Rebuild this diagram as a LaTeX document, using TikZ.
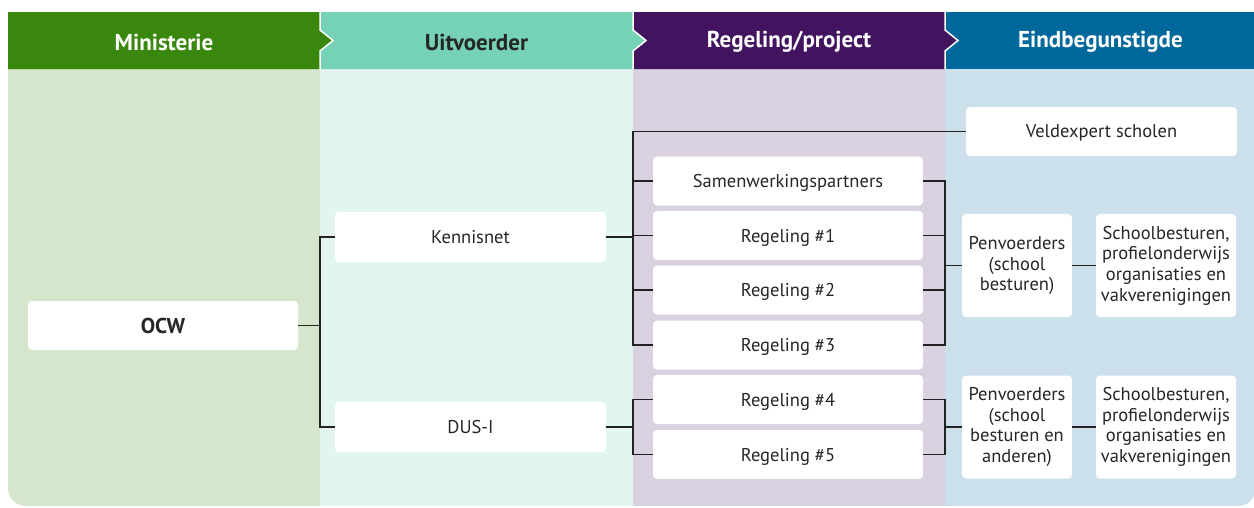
\documentclass[tikz,border=0pt]{standalone}
\usepackage{fontspec}
\setmainfont{PT Sans}
\definecolor{hgreen}{HTML}{39870C}
\definecolor{hmint}{HTML}{76D2B6}
\definecolor{hpurple}{HTML}{42145F}
\definecolor{hblue}{HTML}{01689B}
\definecolor{bgreen}{HTML}{D6E6CC}
\definecolor{bmint}{HTML}{E2F5EF}
\definecolor{bpurple}{HTML}{D9D0E0}
\definecolor{bblue}{HTML}{CCE0EB}
\definecolor{txt}{HTML}{262626}
\definecolor{ln}{HTML}{222222}
\tikzset{
  boxnode/.style={fill=white, rounded corners=4pt, inner sep=0pt, align=center,
    text=txt, font=\fontsize{18.5}{20.7}\selectfont},
  widebox/.style={boxnode, minimum width=270pt, minimum height=49pt, text depth=0pt},
  tallbox/.style={boxnode, minimum height=103pt},
  headtext/.style={font=\fontsize{23}{26}\selectfont\bfseries, inner sep=0pt},
  conn/.style={draw=ln, line width=1.3pt},
  sep/.style={draw=white, line width=1.5pt},
}
\begin{document}
\begin{tikzpicture}[x=1pt,y=-1pt]
\useasboundingbox (0,0) rectangle (1254,507);
\fill[white] (0,0) rectangle (1254,507);
% body
\begin{scope}
\clip[rounded corners=18pt] (8,0) rectangle (1256,506);
\fill[bgreen] (8,69) rectangle (320,506);
\fill[bmint] (320,69) rectangle (633,506);
\fill[bpurple] (633,69) rectangle (945,506);
\fill[bblue] (945,69) rectangle (1256,506);
\end{scope}
% headers
\fill[hblue] (945,12) rectangle (1254,69);
\fill[hpurple] (633,12) -- (945,12) -- (945,30) -- (958,40.5) -- (945,51) -- (945,69) -- (633,69) -- cycle;
\fill[hmint] (320,12) -- (633,12) -- (633,30) -- (646,40.5) -- (633,51) -- (633,69) -- (320,69) -- cycle;
\fill[hgreen] (8,12) -- (320,12) -- (320,30) -- (333,40.5) -- (320,51) -- (320,69) -- (8,69) -- cycle;
\foreach \x in {320,633,945}{
  \draw[sep] (\x,12) -- (\x,30) -- (\x+13,40.5) -- (\x,51) -- (\x,69);
}
\node[headtext, text=white] (h1) at (164,42) {Ministerie};
\node[headtext, text=txt] (h2) at (476.5,42) {Uitvoerder};
\node[headtext, text=white] (h3) at (789,42) {Regeling/project};
\node[headtext, text=white] (h4) at (1100.5,42) {Eindbegunstigde};
% nodes
\node[widebox, font=\fontsize{21.5}{24}\selectfont\bfseries] (ocw) at (163,325.5) {OCW};
\node[widebox, minimum width=271pt, minimum height=50pt] (ken) at (470.5,237) {Kennisnet};
\node[widebox, minimum width=271pt, minimum height=50pt] (dus) at (470.5,427) {DUS-I};
\node[widebox, minimum width=271pt] (veld) at (1101.5,131.5) {Veldexpert scholen};
\node[widebox] (sam) at (788,181) {Samenwerkingspartners};
\node[widebox] (r1) at (788,235.5) {Regeling \#1};
\node[widebox] (r2) at (788,290) {Regeling \#2};
\node[widebox] (r3) at (788,345) {Regeling \#3};
\node[widebox] (r4) at (788,399.5) {Regeling \#4};
\node[widebox] (r5) at (788,454.5) {Regeling \#5};
\node[tallbox, minimum width=110pt] (pen1) at (1017,265.5) {Penvoerders\\(school\\besturen)};
\node[tallbox, minimum width=140pt] (sch1) at (1166,265.5) {Schoolbesturen,\\profielonderwijs\\organisaties en\\vakverenigingen};
\node[tallbox, minimum width=110pt] (pen2) at (1017,427) {Penvoerders\\(school\\besturen en\\anderen)};
\node[tallbox, minimum width=140pt] (sch2) at (1166,427) {Schoolbesturen,\\profielonderwijs\\organisaties en\\vakverenigingen};
% junctions
\coordinate (b1) at (320,325.5);
\coordinate (k) at (633,236);
\coordinate (d) at (633,427);
\coordinate (p1) at (945,265.5);
\coordinate (p2) at (945,427);
% connectors
\draw[conn] (ocw.east) -- (b1);
\draw[conn] (ken.west) -| (b1);
\draw[conn] (dus.west) -| (b1);
\draw[conn] (ken.east) -- (ken.east -| k);
\draw[conn] (veld.west) -| (k);
\draw[conn] (r3.west) -| (k);
\draw[conn] (sam.west) -- (sam.west -| k);
\draw[conn] (r1.west) -- (r1.west -| k);
\draw[conn] (r2.west) -- (r2.west -| k);
\draw[conn] (dus.east) -- (d);
\draw[conn] (r4.west) -| (d);
\draw[conn] (r5.west) -| (d);
\draw[conn] (sam.east) -| (p1);
\draw[conn] (r3.east) -| (p1);
\draw[conn] (r1.east) -- (r1.east -| p1);
\draw[conn] (r2.east) -- (r2.east -| p1);
\draw[conn] (p1) -- (pen1.west);
\draw[conn] (r4.east) -| (p2);
\draw[conn] (r5.east) -| (p2);
\draw[conn] (p2) -- (pen2.west);
\draw[conn] (pen1) -- (sch1);
\draw[conn] (pen2) -- (sch2);
\end{tikzpicture}
\end{document}
